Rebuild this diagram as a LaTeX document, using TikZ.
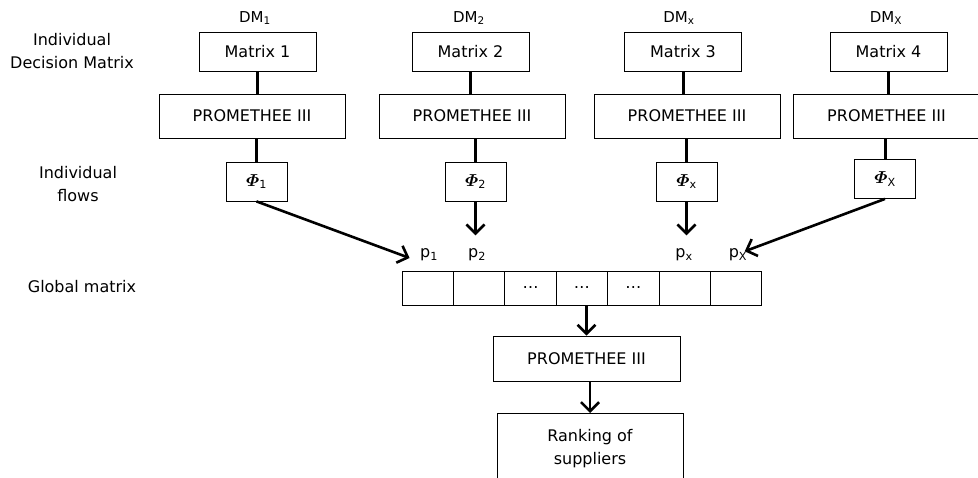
\documentclass[tikz,border=0pt]{standalone}
\usepackage{fontspec}
\setmainfont{DejaVu Sans}
\usepackage{amsmath}
\usetikzlibrary{arrows.meta}

\begin{document}
\begin{tikzpicture}[x=1pt,y=-1pt,font=\fontsize{16}{23}\selectfont,
  box/.style={draw,line width=0.8pt,inner sep=0pt,align=center},
  mbox/.style={box,minimum width=117pt,minimum height=39pt},
  pbox/.style={box,minimum width=186pt,minimum height=44pt},
  fbox/.style={box,minimum width=61pt,minimum height=39pt},
  cell/.style={box,minimum width=51.4pt,minimum height=34pt},
  dmlabel/.style={font=\fontsize{15}{18}\selectfont},
  link/.style={line width=3pt},
  flow/.style={line width=2.6pt,-{Straight Barb[length=9pt,width=18pt,line width=2.6pt]}}]
\clip (0,0) rectangle (978,478);

% left labels
\node[align=center] (lbl1) at (72,51.5) {Individual\\Decision Matrix};
\node[align=center] (lbl2) at (78,184) {Individual\\flows};
\node (lbl3) at (82,287) {Global matrix};

% decision makers
\node[dmlabel] (dm1) at (255,18) {DM\textsubscript{1}};
\node[dmlabel] (dm2) at (469,18) {DM\textsubscript{2}};
\node[dmlabel] (dm3) at (679,18) {DM\textsubscript{x}};
\node[dmlabel] (dm4) at (886,18) {DM\textsubscript{X}};

\node[mbox] (m1) at (257.5,51.5) {Matrix 1};
\node[mbox] (m2) at (470.5,51.5) {Matrix 2};
\node[mbox] (m3) at (683,51.5) {Matrix 3};
\node[mbox] (m4) at (888.5,51.5) {Matrix 4};

\node[pbox] (p1) at (252,116) {PROMETHEE III};
\node[pbox] (p2) at (472,116) {PROMETHEE III};
\node[pbox] (p3) at (687,116) {PROMETHEE III};
\node[pbox] (p4) at (886.5,116) {PROMETHEE III};

\node[fbox] (phi1) at (256.5,181.5) {\fontsize{19}{20}\selectfont$\boldsymbol{\varPhi}$\fontsize{16}{20}\selectfont\textsubscript{1}};
\node[fbox] (phi2) at (475.5,181.5) {\fontsize{19}{20}\selectfont$\boldsymbol{\varPhi}$\fontsize{16}{20}\selectfont\textsubscript{2}};
\node[fbox] (phi3) at (686.5,181.5) {\fontsize{19}{20}\selectfont$\boldsymbol{\varPhi}$\fontsize{16}{20}\selectfont\textsubscript{x}};
\node[fbox] (phi4) at (885,179) {\fontsize{19}{20}\selectfont$\boldsymbol{\varPhi}$\fontsize{16}{20}\selectfont\textsubscript{X}};

\foreach \i in {1,...,4} {
  \draw[link] (m\i.south) -- (m\i.south |- p\i.north);
  \draw[link] (phi\i.north |- p\i.south) -- (phi\i.north);
}

% global matrix
\foreach \i/\t in {1/,2/,3/\ldots,4/\ldots,5/\ldots,6/,7/}
  \node[cell] (g\i) at ({376.3+51.4*\i},288) {\t};

\node (pa) at (429,255) {p\textsubscript{1}};
\node (pb) at (477,255) {p\textsubscript{2}};
\node (pc) at (684,255) {p\textsubscript{x}};
\node (pd) at (738,255) {p\textsubscript{X}};

\draw[flow] (phi1.south) -- ([shift={(-7,3)}]pa.west);
\draw[flow,shorten >=10pt] (phi2.south) -- (phi2.south |- pb.north);
\draw[flow,shorten >=10pt] (phi3.south) -- (phi3.south |- pc.north);
\draw[flow] (phi4.south) -- ([shift={(-6,6)}]pd.north east);

\node[box,minimum width=187pt,minimum height=45pt] (gp) at (586.5,358.5) {PROMETHEE III};
\node[box,minimum width=186pt,minimum height=70pt,anchor=north] (rank) at (590,413) {Ranking of\\suppliers};

\draw[flow] (gp.north |- g4.south) -- (gp.north);
\draw[flow] (rank.north |- gp.south) -- (rank.north);
\end{tikzpicture}
\end{document}
